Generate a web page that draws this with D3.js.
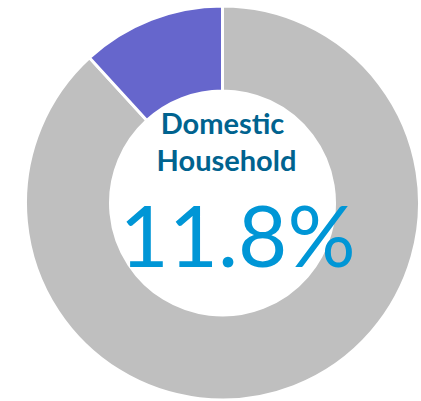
<!DOCTYPE html>
<html><head><meta charset="utf-8">
<script src="https://cdn.jsdelivr.net/npm/d3@7"></script>
<style>body{margin:0;background:#fff}</style>
</head><body>
<svg id="c" width="421" height="401"></svg>
<script>
const categories = ["Domestic Household", "Other"];
const values = [11.8, 88.2];
const colors = ["#6666CC", "#BFBFBF"];
const titleLines = ["Domestic", "Household"];
const valueLabel = "11.8%";

const svg = d3.select("#c");
const cx = 222.5, cy = 203, rOuter = 197, rInner = 112;
// Other first clockwise from top, Domestic last
const order = [1, 0];
const pie = d3.pie().sort(null).value(i => values[i]);
const arcs = pie(order);
const arc = d3.arc().innerRadius(rInner).outerRadius(rOuter);
const g = svg.append("g").attr("transform", `translate(${cx},${cy})`);
g.selectAll("path").data(arcs).join("path")
  .attr("d", arc)
  .attr("fill", d => colors[d.data])
  .attr("stroke", "#fff").attr("stroke-width", 3);

svg.append("text").attr("x", 222.5).attr("y", 134).attr("text-anchor", "middle")
  .attr("font-family", "Lato").attr("font-weight", "bold").attr("font-size", 29)
  .attr("fill", "#00638F").text(titleLines[0]);
svg.append("text").attr("x", 226.5).attr("y", 171).attr("text-anchor", "middle")
  .attr("font-family", "Lato").attr("font-weight", "bold").attr("font-size", 29)
  .attr("fill", "#00638F").text(titleLines[1]);
svg.append("text").attr("x", 237.5).attr("y", 267).attr("text-anchor", "middle")
  .attr("font-family", "Lato").attr("font-size", 85)
  .attr("fill", "#0096D6").text(valueLabel);
</script>
</body></html>
